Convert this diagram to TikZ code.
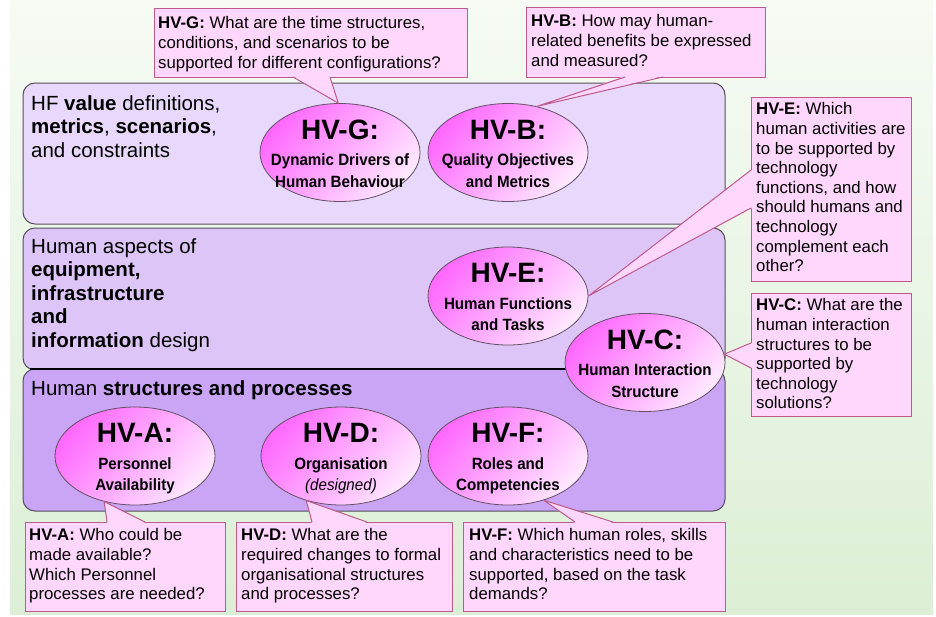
\documentclass[tikz,border=0pt]{standalone}
\usepackage{fontspec}
\setmainfont{Liberation Sans}
\newfontfamily\subfont[FakeStretch=0.93]{Liberation Sans}
\usetikzlibrary{shapes.geometric,calc}
\definecolor{bgtop}{RGB}{246,251,244}
\definecolor{bgbot}{RGB}{220,239,214}
\definecolor{bandA}{RGB}{232,216,251}
\definecolor{bandB}{RGB}{221,197,248}
\definecolor{bandC}{RGB}{202,164,245}
\definecolor{bandline}{RGB}{85,80,90}
\definecolor{cfill}{RGB}{255,214,252}
\definecolor{cline}{RGB}{190,90,140}
\definecolor{elA}{RGB}{255,105,255}
\definecolor{elB}{RGB}{255,232,255}
\definecolor{elline}{RGB}{100,80,100}
\begin{document}
\begin{tikzpicture}[x=1pt,y=-1pt,
  band/.style={draw=bandline,line width=1,rounded corners=12},
  hv/.style={ellipse,draw=elline,line width=0.8,minimum width=160,minimum height=98,inner sep=0,
    top color=elA,bottom color=elB,shading angle=50},
  hvtitle/.style={anchor=base,inner sep=0,font=\bfseries\fontsize{28}{30}\selectfont},
  hvsub/.style={anchor=north,inner sep=0,align=center,font=\subfont\bfseries\fontsize{16.3}{21.5}\selectfont},
  qbox/.style={draw=cline,fill=cfill,line width=1,inner sep=0,anchor=north west},
  qtext/.style={anchor=north west,inner sep=0,align=left,font=\fontsize{16.8}{19.6}\selectfont},
  ptrfill/.style={fill=cfill},
  ptrline/.style={draw=cline,line width=1,line join=round},
  bandtext/.style={anchor=north west,inner sep=0,align=left,font=\fontsize{20.5}{23.5}\selectfont}]
\useasboundingbox (0,0) rectangle (936,616);
% background
\shade[top color=bgtop,bottom color=bgbot] (10,0) rectangle (933,614);
% bands
\path[band,fill=bandA] (23,83) rectangle (725,224);
\path[band,fill=bandB] (23,228) rectangle (725,370);
\path[band,fill=bandC] (23,369) rectangle (725,511);
\draw[line width=1.6,black] (30,369) -- (620,369);
% band texts
\node[bandtext] (t1) at (31,95) {HF \textbf{value} definitions,\\\textbf{metrics}, \textbf{scenarios},\\and constraints};
\node[bandtext] (t2) at (31,238) {Human aspects of\\\textbf{equipment,}\\\textbf{infrastructure}\\\textbf{and}\\\textbf{information} design};
\node[bandtext] (t3) at (31,380.5) {Human \textbf{structures and processes}};
% ellipses
\node[hv] (G) at (340,152.5) {};
\node[hv] (B) at (508,152.5) {};
\node[hv] (E) at (508,296) {};
\node[hv] (C) at (645,362.5) {};
\node[hv] (A) at (135,456) {};
\node[hv] (D) at (341,456) {};
\node[hv] (F) at (508,456) {};
\foreach \n/\t in {G/HV-G:,B/HV-B:,E/HV-E:,C/HV-C:,A/HV-A:,D/HV-D:,F/HV-F:}
  \node[hvtitle] (\n t) at ($(\n)+(0,-13.5)$) {\t};
\node[hvsub] (Gs) at ($(G)+(0,1.2)$) {Dynamic Drivers of\\Human Behaviour};
\node[hvsub] (Bs) at ($(B)+(0,1.2)$) {Quality Objectives\\and Metrics};
\node[hvsub] (Es) at ($(E)+(0,1.2)$) {Human Functions\\and Tasks};
\node[hvsub] (Cs) at ($(C)+(0,1.2)$) {Human Interaction\\Structure};
\node[hvsub] (As) at ($(A)+(0,1.2)$) {Personnel\\Availability};
\node[hvsub] (Ds) at ($(D)+(0,1.2)$) {Organisation\\\mdseries\itshape (designed)};
\node[hvsub] (Fs) at ($(F)+(0,1.2)$) {Roles and\\Competencies};
% callout boxes
\node[qbox,minimum width=313,minimum height=69] (bG) at (154,8) {};
\node[qbox,minimum width=239,minimum height=70] (bB) at (526,7) {};
\node[qbox,minimum width=160,minimum height=184] (bE) at (751,97) {};
\node[qbox,minimum width=160,minimum height=123] (bC) at (751,293) {};
\node[qbox,minimum width=200,minimum height=89] (bA) at (25,522) {};
\node[qbox,minimum width=216,minimum height=89] (bD) at (236,522) {};
\node[qbox,minimum width=262,minimum height=89] (bF) at (463,522) {};
% pointer tips on the ellipses
\coordinate (pG) at (G.92);
\coordinate (pB) at (B.58);
\coordinate (pE) at (E.east);
\coordinate (pC) at (C.6);
\coordinate (pA) at (A.236);
\coordinate (pD) at (D.232);
\coordinate (pF) at (F.309);
% pointers
\fill[ptrfill] (pG) -- (293,76) -- (330,76) -- cycle;
\draw[ptrline] (293,77) -- (pG) -- (330,77);
\fill[ptrfill] (pB) -- (625,76) -- (663,76) -- cycle;
\draw[ptrline] (625,77) -- (pB) -- (663,77);
\fill[ptrfill] (pE) -- (752,170) -- (752,208) -- cycle;
\draw[ptrline] (751,170) -- (pE) -- (751,208);
\fill[ptrfill] (pC) -- (752,343) -- (752,368) -- cycle;
\draw[ptrline] (751,343) -- (pC) -- (751,368);
\fill[ptrfill] (pA) -- (107,523) -- (145,523) -- cycle;
\draw[ptrline] (107,522) -- (pA) -- (145,522);
\fill[ptrfill] (pD) -- (312,523) -- (367,523) -- cycle;
\draw[ptrline] (312,522) -- (pD) -- (367,522);
\fill[ptrfill] (pF) -- (575,523) -- (613,523) -- cycle;
\draw[ptrline] (575,522) -- (pF) -- (613,522);
% callout texts
\node[qtext] (qG) at ($(bG.north west)+(4,8.5)$) {\textbf{HV-G:} What are the time structures,\\conditions, and scenarios to be\\supported for different configurations?};
\node[qtext] (qB) at ($(bB.north west)+(5,7.5)$) {\textbf{HV-B:} How may human-\\related benefits be expressed\\and measured?};
\node[qtext] (qE) at ($(bE.north west)+(5,5.5)$) {\textbf{HV-E:} Which\\human activities are\\to be supported by\\technology\\functions, and how\\should humans and\\technology\\complement each\\other?};
\node[qtext] (qC) at ($(bC.north west)+(5,5.5)$) {\textbf{HV-C:} What are the\\human interaction\\structures to be\\supported by\\technology\\solutions?};
\node[qtext] (qA) at ($(bA.north west)+(4,6.5)$) {\textbf{HV-A:} Who could be\\made available?\\Which Personnel\\processes are needed?};
\node[qtext] (qD) at ($(bD.north west)+(5,6.5)$) {\textbf{HV-D:} What are the\\required changes to formal\\organisational structures\\and processes?};
\node[qtext] (qF) at ($(bF.north west)+(6,6.5)$) {\textbf{HV-F:} Which human roles, skills\\and characteristics need to be\\supported, based on the task\\demands?};
\end{tikzpicture}
\end{document}
